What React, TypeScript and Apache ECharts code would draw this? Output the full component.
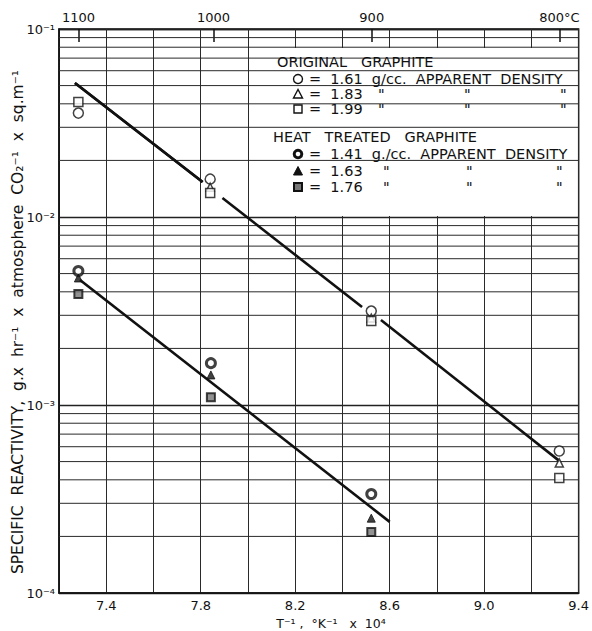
import React, { useEffect, useRef } from "react";
import * as echarts from "echarts";

// ---- data ----
const xMin = 7.2;
const xMax = 9.4;
const xStep = 0.2;
const xTickLabels = ["7.4", "7.8", "8.2", "8.6", "9.0", "9.4"];
const yTickLabels = ["10⁻⁴", "10⁻³", "10⁻²", "10⁻¹"];
const decades = [1e-4, 1e-3, 1e-2];
const minorMultipliers = [2, 3, 4, 5, 6, 7, 8, 9];
const tempC = [1100, 1000, 900, 800];
const tempLabels = ["1100", "1000", "900", "800°C"];

// x positions (T^-1 x 10^4) of the measured groups
const origX = [7.282, 7.84, 8.522, 9.318];
const heatX = [7.282, 7.843, 8.522];

// original graphite
const origCircle = [0.0357, 0.0159, 0.00316, 0.000569];
const origTriangle = [null, 0.0144, 0.0029, 0.000492];
const origSquare = [0.0409, 0.0134, 0.0028, 0.000409];
// heat treated graphite
const heatCircle = [0.00516, 0.00167, 0.000336];
const heatTriangle = [0.00474, 0.001445, 0.00025];
const heatSquare = [0.00389, 0.0011, 0.000211];

// fitted lines (upper one broken around the marker groups)
const upperSeg1 = [[7.2675, 0.0516], [7.808, 0.01535]];
const upperSeg2 = [[7.892, 0.01262], [8.483, 0.00332]];
const upperSeg3 = [[8.563, 0.00283], [9.314, 0.000509]];
const lowerLine = [[7.289, 0.00462], [8.6, 0.000239]];

// legend box extent (data coords)
const legendBox = [[8.005, 0.0792], [9.394, 0.01012]];

const FONT = "DejaVu Sans";

function pairs(xs: number[], ys: (number | null)[]) {
  const out: number[][] = [];
  ys.forEach((v, i) => {
    if (v != null) out.push([xs[i], v]);
  });
  return out;
}

export default function App() {
  const ref = useRef<HTMLDivElement>(null);
  useEffect(() => {
    if (!ref.current) return;
    const chart = echarts.init(ref.current, undefined, { renderer: "svg" });
    const minorVals: number[] = [];
    decades.forEach((d) => minorMultipliers.forEach((m) => minorVals.push(d * m)));
    const tempPos = tempC.map((c) => 1e4 / (c + 273.15));

    const gridSeries = minorVals.map((v) => ({
      type: "line",
      data: [[xMin, v], [xMax, v]],
      symbol: "none",
      showSymbol: false,
      silent: true,
      z: 1,
      lineStyle: { color: "#2a2a2a", width: 1 },
    }));

    const lineStyle = { color: "#111", width: 2.6 };
    const lineSeries = (data: number[][], extra: any = {}) => ({
      type: "line",
      data,
      showSymbol: false,
      symbol: "none",
      lineStyle,
      silent: true,
      z: 3,
      ...extra,
    });

    const LF = 14.5;
    const lx = 298; // legend symbol column
    const txt = (text: string, x: number, y: number, extra: any = {}, size = LF) => ({
      type: "text",
      x,
      y,
      z: 100,
      style: {
        text,
        fill: "#111",
        font: `${size}px '${FONT}'`,
        textAlign: "left",
        textVerticalAlign: "middle",
        ...extra,
      },
    });
    const rows1 = [79, 94, 109];
    const rows2 = [154, 171, 187];
    const q = (y: number, xs: number[]) => xs.map((x) => txt('"', x, y, { fill: "#111" }));

    const option: any = {
      animation: false,
      backgroundColor: "#fff",
      grid: {
        left: 59,
        top: 29,
        width: 520,
        height: 564,
        show: true,
        borderColor: "#111",
        borderWidth: 1.5,
        backgroundColor: "transparent",
      },
      xAxis: [
        {
          type: "value",
          min: xMin,
          max: xMax,
          interval: xStep,
          axisLine: { show: true, lineStyle: { color: "#111", width: 1.5 } },
          axisTick: { show: false },
          splitLine: { show: true, lineStyle: { color: "#2a2a2a", width: 1 } },
          axisLabel: {
            margin: 6,
            color: "#111",
            fontFamily: FONT,
            fontSize: 13,
            showMinLabel: true,
            showMaxLabel: true,
            formatter: (v: number) => {
              const s = v.toFixed(1);
              return xTickLabels.includes(s) ? s : "";
            },
          },
        },
        {
          type: "value",
          position: "top",
          min: xMin,
          max: xMax,
          axisLine: { show: false },
          splitLine: { show: false },
          axisTick: {
            show: true,
            inside: true,
            length: 13,
            customValues: tempPos,
            lineStyle: { color: "#111", width: 1.5 },
          },
          axisLabel: {
            margin: 5,
            color: "#111",
            fontFamily: FONT,
            fontSize: 13,
            customValues: tempPos,
            formatter: (v: number) => {
              let best = 0;
              tempPos.forEach((p, i) => {
                if (Math.abs(p - v) < Math.abs(tempPos[best] - v)) best = i;
              });
              return tempLabels[best];
            },
          },
        },
      ],
      yAxis: {
        type: "log",
        logBase: 10,
        min: 1e-4,
        max: 1e-1,
        axisLine: { show: true, lineStyle: { color: "#111", width: 1.5 } },
        axisTick: { show: false },
        minorTick: { show: false },
        splitLine: { show: true, lineStyle: { color: "#222", width: 1.3 } },
        axisLabel: {
          margin: 4,
          color: "#111",
          fontFamily: FONT,
          fontSize: 13,
          formatter: (v: number) => {
            const idx = Math.round(Math.log10(v)) + 4;
            return yTickLabels[idx] ?? "";
          },
        },
      },
      series: [
        ...gridSeries,
        lineSeries(upperSeg1, {
          z: 2,
          markArea: {
            silent: true,
            itemStyle: { color: "#fff" },
            data: [[{ coord: legendBox[0] }, { coord: legendBox[1] }]],
          },
        }),
        lineSeries(upperSeg1),
        lineSeries(upperSeg2),
        lineSeries(upperSeg3),
        lineSeries(lowerLine),
        {
          type: "scatter",
          z: 4,
          symbol: "circle",
          symbolSize: 10,
          itemStyle: { color: "#fff", borderColor: "#111", borderWidth: 1.5 },
          data: pairs(origX, origCircle),
        },
        {
          type: "scatter",
          z: 4,
          symbol: "triangle",
          symbolSize: 8,
          itemStyle: { color: "#fff", borderColor: "#111", borderWidth: 1.5 },
          data: pairs(origX, origTriangle),
        },
        {
          type: "scatter",
          z: 4,
          symbol: "rect",
          symbolSize: 9,
          itemStyle: { color: "#fff", borderColor: "#111", borderWidth: 1.5 },
          data: pairs(origX, origSquare),
        },
        {
          type: "scatter",
          z: 4,
          symbol: "circle",
          symbolSize: 9,
          itemStyle: { color: "#fff", borderColor: "#111", borderWidth: 3 },
          data: pairs(heatX, heatCircle),
        },
        {
          type: "scatter",
          z: 4,
          symbol: "triangle",
          symbolSize: 8,
          itemStyle: { color: "#111", borderColor: "#111", borderWidth: 1 },
          data: pairs(heatX, heatTriangle),
        },
        {
          type: "scatter",
          z: 4,
          symbol: "rect",
          symbolSize: 8,
          itemStyle: { color: "#777", borderColor: "#111", borderWidth: 2 },
          data: pairs(heatX, heatSquare),
        },
      ],
      graphic: [
        // axis titles
        {
          type: "text",
          x: 18,
          y: 322,
          rotation: Math.PI / 2,
          z: 100,
          style: {
            text: "SPECIFIC  REACTIVITY,  g.x  hr⁻¹  x  atmosphere  CO₂⁻¹  x  sq.m⁻¹",
            fill: "#111",
            font: `15.5px '${FONT}'`,
            textAlign: "center",
            textVerticalAlign: "middle",
          },
        },
        txt("T⁻¹ ,  °K⁻¹   x  10⁴", 331, 623, { textAlign: "center" }, 12.5),
        // legend
        txt("ORIGINAL   GRAPHITE", 277, 62),
        {
          type: "circle",
          z: 100,
          shape: { cx: lx, cy: rows1[0], r: 4.5 },
          style: { fill: "#fff", stroke: "#111", lineWidth: 1.4 },
        },
        {
          type: "polygon",
          z: 100,
          shape: { points: [[lx, rows1[1] - 4.5], [lx - 4.5, rows1[1] + 4], [lx + 4.5, rows1[1] + 4]] },
          style: { fill: "#fff", stroke: "#111", lineWidth: 1.4 },
        },
        {
          type: "rect",
          z: 100,
          shape: { x: lx - 4, y: rows1[2] - 4, width: 8, height: 8 },
          style: { fill: "#fff", stroke: "#111", lineWidth: 1.4 },
        },
        txt("=  1.61  g/cc.  APPARENT  DENSITY", 309, rows1[0]),
        txt("=  1.83", 309, rows1[1]),
        txt("=  1.99", 309, rows1[2]),
        ...q(rows1[1], [378, 464, 560]),
        ...q(rows1[2], [378, 464, 560]),
        txt("HEAT   TREATED   GRAPHITE", 273, 137),
        {
          type: "circle",
          z: 100,
          shape: { cx: lx, cy: rows2[0], r: 3.8 },
          style: { fill: "#fff", stroke: "#111", lineWidth: 3 },
        },
        {
          type: "polygon",
          z: 100,
          shape: { points: [[lx, rows2[1] - 4.5], [lx - 4.5, rows2[1] + 4], [lx + 4.5, rows2[1] + 4]] },
          style: { fill: "#111", stroke: "#111", lineWidth: 1 },
        },
        {
          type: "rect",
          z: 100,
          shape: { x: lx - 4, y: rows2[2] - 4, width: 8, height: 8 },
          style: { fill: "#777", stroke: "#111", lineWidth: 2 },
        },
        txt("=  1.41  g./cc.  APPARENT  DENSITY", 309, rows2[0]),
        txt("=  1.63", 309, rows2[1]),
        txt("=  1.76", 309, rows2[2]),
        ...q(rows2[1], [383, 466, 556]),
        ...q(rows2[2], [383, 466, 556]),
      ],
    };
    chart.setOption(option);
    return () => chart.dispose();
  }, []);
  return (
    <div
      ref={ref}
      style={{ position: "fixed", left: 0, top: 0, width: 592, height: 631, background: "#fff" }}
    />
  );
}
